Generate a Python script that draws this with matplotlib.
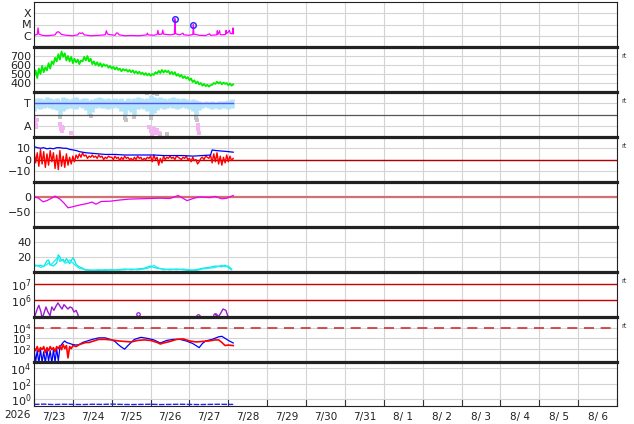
import numpy as np
import matplotlib
matplotlib.use('Agg')
import matplotlib.pyplot as plt
import matplotlib.dates as mdates
from matplotlib.ticker import FixedLocator, FuncFormatter, NullLocator

# ---- data (hours after 2026-07-23 00:00) ----
xray_h = [0, 1, 2, 2.5, 3, 5, 8, 11, 13, 14, 15, 16, 17, 20, 24, 27, 28, 29, 30, 31, 35, 40, 44, 44.7, 45.3, 46,
          50, 51, 51.8, 52.6, 56, 60, 65, 69.5, 70, 70.5, 74, 76, 76.5, 77, 79, 79.5, 80, 84, 86.7, 87, 87.4, 90,
          92, 92.5, 96, 98.1, 98.4, 98.7, 102, 106, 108.5, 109, 112.8, 113.2, 113.6, 114.6, 115, 116, 118.3,
          118.6, 119, 120, 120.7, 121.2, 122.5, 122.9, 123.2]
xray_v = [1.1, 1.2, 1.3, 5.0, 1.4, 1.1, 1.0, 1.1, 1.2, 2.0, 2.3, 1.8, 1.3, 1.1, 1.0, 1.2, 1.8, 1.6, 1.8, 1.2, 1.0,
          1.1, 1.2, 2.8, 1.5, 1.3, 1.1, 1.8, 1.7, 1.2, 1.0, 1.05, 1.0, 1.2, 1.7, 1.2, 1.1, 1.3, 3.0, 1.3, 1.4, 3.2,
          1.4, 1.2, 1.4, 33, 1.5, 1.2, 1.7, 1.2, 1.1, 1.3, 10, 1.4, 1.1, 1.05, 1.5, 1.1, 1.2, 2.8, 1.3, 2.8, 1.3,
          1.2, 1.3, 3.0, 1.6, 2.2, 3.0, 1.6, 1.5, 5.0, 1.5]  # x 1e-6 W/m2
flare_h = [87, 98.4]
flare_v = [33, 10]

speed = [470, 540, 455, 560, 500, 590, 520, 575, 540, 620, 560, 640,
         610, 680, 640, 720, 660, 750, 690, 730, 650, 700, 640, 690,
         620, 670, 630, 660, 610, 650, 640, 690, 650, 700, 640, 670,
         610, 640, 600, 630, 590, 620, 580, 610, 590, 600, 570, 590,
         560, 580, 550, 575, 545, 560, 530, 555, 540, 550, 525, 545,
         520, 540, 510, 530, 505, 525, 500, 515, 490, 510, 485, 505,
         480, 500, 490, 520, 505, 535, 510, 545, 515, 540, 520, 535,
         500, 525, 495, 520, 480, 500, 470, 490, 455, 475, 450, 465,
         430, 450, 410, 430, 395, 415, 385, 400, 370, 390, 365, 380,
         360, 375, 380, 400, 390, 415, 395, 410, 385, 405, 390, 400,
         375, 395, 370, 385]

imf_lo = [2.3, 2.6, 2.5, 2.6, 2.7, 2.6, 2.5, 2.4, 2.0, 2.3, 2.5, 2.6,
          2.6, 2.5, 2.7, 2.6, 2.4, 2.0, 2.2, 2.6, 2.7, 2.6, 2.6, 2.5,
          2.6, 2.7, 2.6, 2.3, 2.0, 2.4, 2.2, 2.0, 2.5, 2.6, 2.5, 2.3,
          2.0, 2.1, 2.4, 2.6, 2.5, 2.6, 2.7, 2.6, 2.5, 2.6, 2.7, 2.6,
          2.5, 2.3, 2.0, 2.4, 2.6, 2.7, 2.6, 2.5, 2.6, 2.5, 2.6, 2.6, 2.5, 2.6]
imf_hi = [3.4, 3.5, 3.5, 3.4, 3.6, 3.5, 3.4, 3.5, 3.3, 3.6, 3.5, 3.4,
          3.5, 3.6, 3.4, 3.5, 3.5, 3.3, 3.4, 3.5, 3.6, 3.5, 3.4, 3.5,
          3.4, 3.5, 3.4, 3.5, 3.3, 3.5, 3.4, 3.5, 3.6, 3.5, 3.4, 3.5,
          3.7, 3.6, 3.5, 3.6, 3.5, 3.4, 3.5, 3.6, 3.5, 3.4, 3.5, 3.4,
          3.3, 3.4, 3.3, 3.2, 3.1, 3.2, 3.1, 3.2, 3.1, 3.2, 3.2, 3.2, 3.3, 3.4]
away_h = [0, 0.5, 1, 1.5, 2, 16, 16.5, 17, 17.5, 18, 23, 71, 72, 73, 74, 75, 76, 77, 101, 101.5, 102]
away_v = [1.8, 1.3, 0.9, 1.1, 1.5, 1.2, 0.7, 0.9, 0.5, 0.8, 0.35, 0.9, 0.5, 0.3, 0.7, 0.4, 0.6, 0.35, 1.1, 0.7, 0.4]
grey_h = [16, 35, 56, 57, 62, 70, 72, 73, 74, 76, 78, 82, 100, 100.5]
grey_v = [1.8, 1.9, 1.7, 1.5, 1.8, 3.9, 1.7, 0.4, 3.95, 3.85, 0.3, 0.25, 1.7, 1.5]

bt_h = [0, 2, 4, 6, 8, 10, 12, 14, 16, 18, 20, 22, 24, 26, 28, 32, 36, 40, 44, 50, 56, 62, 68, 74, 80, 86, 92,
        98, 104, 109, 110, 112, 116, 120, 123]
bt_v = [11.5, 10.5, 10, 10.5, 9.5, 10, 9.5, 10.5, 10.5, 10, 10, 9, 8.5, 8, 7, 6, 5.5, 5, 4.5, 4.5, 4, 4, 4, 4,
        3.5, 3.5, 3.5, 3, 3.5, 4, 8.5, 8, 7.5, 7, 6.5]
bz = [8, -3, 6, -6, 9, -4, 7, -7, 5, -5, 8, -2,
      6, -8, 4, -9, 8, -6, 3, -7, 5, -5, 2, -4,
      3, -2, 4, 1, 5, 2, 6, 3, 4, 1, 3, 2,
      4, 2, 3, 1, 4, 2, 3, 0, 2, 1, 3, 2,
      2, 0, 3, 1, 2, -1, 2, 0, 3, 1, 2, 0,
      1, -1, 2, 0, 3, 1, 2, -1, 1, 0, 2, 1,
      3, -2, 4, 0, 2, -5, 1, -3, 3, 0, 2, 1,
      3, 1, 2, 0, 3, 2, 1, 0, 2, 1, 3, 0,
      1, -2, 2, -1, 0, -4, -2, 1, 2, 0, 3, 2,
      1, 4, -3, 5, -2, 6, -4, 3, -5, 2, -3, 4,
      -2, 3, -1, 1]

dst_h = [0, 2.5, 5.6, 8, 10.5, 13, 16, 18.5, 21, 23.5, 26.5, 29.6, 32.7, 35.8, 38.3, 41.4, 47, 53, 59, 65.4,
         71.6, 77.8, 84, 89, 94.5, 99.4, 102.5, 108.7, 111.8, 116, 119, 123]
dst_v = [0, -3, -16, -12, -5, 3, -7, -20, -36, -33, -29, -25, -22, -17, -24, -15, -14, -10, -7, -6, -5, -4,
         -5, 5, -12, -3, 0, -2, 2, -6, -4, 5]

dens_h = [0, 2, 4, 6, 8, 9, 10, 12, 14, 15, 16, 17, 18, 19, 20, 22, 24, 25, 26, 28, 30, 32, 36, 40, 44, 48,
          52, 56, 60, 64, 68, 72, 74, 76, 80, 84, 88, 92, 96, 100, 104, 108, 112, 116, 118, 120, 122]
dens_a = [10, 8, 9, 7, 15, 16, 10, 8, 12, 23, 20, 15, 17, 13, 18, 11, 19, 16, 10, 7, 5, 3, 2.5, 2, 3, 2.5,
          3, 4, 3, 4, 5, 8, 6, 5, 4, 3, 4, 3, 2, 3, 5, 6, 8, 7, 9, 6, 3]
dens_b = [7, 9, 6, 8, 10, 12, 9, 13, 18, 20, 14, 16, 15, 12, 12, 16, 12, 10, 8, 5, 4, 2.5, 2, 3, 2, 3.5,
          2.5, 3, 4, 3, 4, 6, 9, 6, 3, 4, 3, 4, 3, 2, 4, 5, 6, 9, 7, 8, 4]

elec_h = [0, 2, 3, 4.3, 5, 6, 7.4, 8.6, 9.9, 11, 12.3, 13.6, 14.8, 16, 17.3, 18.5, 19.8, 21, 22.2, 23.5,
          24.7, 26, 27, 27.8]
elec_v = [0.8, 3, 5, 2, 0.8, 1.5, 4, 2, 1.2, 4, 2.5, 4.5, 7, 4.5, 3, 5.5, 4, 3, 4, 3.5, 2, 2.5, 1.5, 0.8]  # x 1e5
elec2_h = [112, 113.6, 115, 116.7, 118.5, 120]
elec2_v = [1.4, 1.0, 1.5, 3.0, 2.5, 0.9]
elec_pts_h = [64, 101, 112]
elec_pts_v = [1.5, 1.1, 1.4]

hp_h = [0, 1, 2, 3, 4, 5, 6, 7, 8, 9, 10, 11, 12, 13, 14, 15, 16, 17, 18, 19, 20, 21, 22, 23, 24, 26, 28, 30,
        32, 34, 36, 40, 44, 48, 52, 56, 60, 64, 68, 72, 76, 78, 80, 84, 88, 92, 96, 100, 104, 108, 112, 114,
        116, 118, 120, 123]
hp_red = [2.1, 1.8, 2.2, 1.7, 2.1, 1.9, 2.2, 1.6, 2.1, 1.8, 2.2, 1.9, 2.1, 1.7, 2.2, 2.0, 2.3, 1.9, 2.4, 2.0,
          2.3, 1.1, 2.2, 2.0, 2.3, 2.2, 2.4, 2.5, 2.6, 2.6, 2.7, 2.9, 2.9, 2.85, 2.75, 2.7, 2.65, 2.8, 2.85, 2.8,
          2.6, 2.45, 2.55, 2.7, 2.9, 2.95, 2.75, 2.65, 2.7, 2.75, 2.85, 2.85, 2.6, 2.3, 2.35, 2.3]
hb_h = [0, 1, 2, 3, 4, 5, 6, 7, 8, 9, 10, 11, 12, 13, 14, 15, 16, 17, 18, 19, 20, 22, 24, 26, 28, 30, 32, 36,
        40, 44, 48, 50, 52, 54, 56, 58, 62, 66, 70, 74, 78, 82, 86, 90, 94, 98, 100, 102, 104, 106, 110, 114,
        116, 118, 120, 123]
hp_blue = [2.0, 0.7, 1.8, 0.6, 1.9, 0.7, 1.7, 0.6, 1.9, 0.8, 1.8, 0.6, 1.9, 0.7, 2.0, 0.8, 2.1, 2.4, 2.6, 2.75,
           2.6, 2.5, 2.4, 2.35, 2.4, 2.6, 2.7, 2.9, 3.05, 3.05, 2.85, 2.7, 2.4, 2.15, 1.95, 2.3, 2.9, 3.1, 3.0,
           2.85, 2.55, 2.8, 2.9, 2.9, 2.75, 2.5, 2.3, 2.1, 2.5, 2.75, 2.9, 3.15, 3.2, 3.0, 2.8, 2.55]  # log10

pr_h = [0, 6, 12, 18, 24, 30, 36, 42, 48, 54, 60, 66, 72, 78, 84, 90, 96, 102, 108, 114, 120, 123]
pr_v = [0.22, 0.24, 0.21, 0.23, 0.22, 0.21, 0.23, 0.22, 0.24, 0.22, 0.21, 0.22, 0.23, 0.21, 0.22, 0.23,
        0.22, 0.21, 0.22, 0.23, 0.22, 0.22]


t0 = np.datetime64('2026-07-23T00:00')
def when(hours):
    return t0 + (np.asarray(hours, dtype=float) * 60).astype(int) * np.timedelta64(1, 'm')

W, H = 634, 424
fig = plt.figure(figsize=(W / 100, H / 100), dpi=100)
tops = [2, 47, 92, 137, 182, 227, 272, 317, 362, 406]
axs = []
for i in range(9):
    t, b = tops[i], tops[i + 1]
    ax = fig.add_axes([34 / W, 1 - b / H, 583 / W, (b - t) / H], sharex=axs[0] if axs else None)
    for s in ['left', 'right']:
        ax.spines[s].set_linewidth(0.8)
        ax.spines[s].set_color('#222222')
    ax.spines['top'].set_color('#222222')
    ax.spines['top'].set_linewidth(0.8 if i == 0 else 2.3)
    ax.spines['bottom'].set_visible(i == 8)
    ax.spines['bottom'].set_linewidth(0.8)
    ax.spines['bottom'].set_color('#222222')
    ax.grid(True, color='#d4d4d4', lw=0.8)
    ax.set_axisbelow(True)
    ax.tick_params(axis='y', which='both', length=0, pad=2, labelsize=8, labelcolor='#222222')
    ax.tick_params(axis='x', which='both', length=0, labelbottom=False)
    axs.append(ax)

ax = axs[0]
ax.xaxis.set_major_locator(mdates.DayLocator())
ax.xaxis.set_major_formatter(FuncFormatter(lambda x, p: ''))
ax.xaxis.set_minor_locator(mdates.HourLocator(byhour=[12]))
ax.set_xlim(np.datetime64('2026-07-23T00:00'), np.datetime64('2026-08-07T00:00'))

# 1: X-ray
ax = axs[0]
ax.set_yscale('log')
ax.plot(when(xray_h), np.array(xray_v) * 1e-6, color='#ff00ff', lw=0.9)
ax.plot(when(flare_h), np.array(flare_v) * 1e-6, 'o', mfc='none', mec='#3030ff', ms=4, mew=1.1)
ax.set_ylim(1e-7, 1e-3)
ax.yaxis.set_major_locator(FixedLocator([1e-6, 1e-5, 1e-4]))
ax.yaxis.set_minor_locator(NullLocator())
ax.set_yticklabels(['C', 'M', 'X'])

# 2: solar wind speed
ax = axs[1]
ax.plot(when(np.arange(len(speed))), speed, color='#00ee00', lw=1.3)
ax.set_ylim(300, 800)
ax.set_yticks([400, 500, 600, 700])

# 3: IMF sector
ax = axs[2]
ax.vlines(when(np.arange(0, 124, 2)), imf_lo, imf_hi, color='#b4e4fa', lw=3.3)
ax.plot(when(grey_h), grey_v, 's', color='#c4c4c4', ms=2.2, mew=0)
ax.plot(when(away_h), away_v, 's', color='#f4b4f4', ms=2.4, mew=0)
ax.plot(when([0, 123]), [3, 3], color='#5555ff', lw=1.0)
ax.axhline(2, color='#555555', lw=0.9)
ax.set_ylim(0, 4)
ax.set_yticks([1, 3])
ax.set_yticklabels(['A', 'T'])

# 4: Bt / Bz
ax = axs[3]
ax.axhline(0, color='#b00000', lw=1.0)
ax.plot(when(np.arange(len(bz))), bz, color='#ff0000', lw=1.0)
ax.plot(when(bt_h), bt_v, color='#0000ff', lw=0.9)
ax.set_ylim(-20, 20)
ax.set_yticks([-10, 0, 10])

# 5: Dst
ax = axs[4]
ax.axhline(0, color='#d07070', lw=1.6)
ax.plot(when(dst_h), dst_v, color='#ee00ee', lw=0.9)
ax.set_ylim(-100, 50)
ax.set_yticks([-50, 0])

# 6: density
ax = axs[5]
ax.plot(when(dens_h), dens_a, color='#00e8e8', lw=0.9)
ax.plot(when(dens_h), dens_b, color='#20f0f0', lw=0.9)
ax.set_ylim(0, 60)
ax.set_yticks([20, 40])

# 7: electrons
ax = axs[6]
ax.set_yscale('log')
ax.axhline(1e7, color='#cc0000', lw=1.0)
ax.axhline(1e6, color='#cc0000', lw=1.0)
ax.plot(when(elec_h), np.array(elec_v) * 1e5, color='#9a1ad0', lw=1.0)
ax.plot(when(elec2_h), np.array(elec2_v) * 1e5, color='#9a1ad0', lw=1.0)
ax.plot(when(elec_pts_h), np.array(elec_pts_v) * 1e5, 'o', mfc='none', mec='#9a1ad0', ms=2.5, mew=0.9)
ax.set_ylim(1e5, 5e7)
ax.yaxis.set_major_locator(FixedLocator([1e6, 1e7]))
ax.yaxis.set_minor_locator(NullLocator())

# 8: high-energy flux (tick labels sit tight, as in the original)
ax = axs[7]
ax.set_yscale('log')
ax.axhline(1e4, color='#d03030', lw=1.2, dashes=(6, 4))
ax.plot(when(hb_h), 10 ** np.array(hp_blue), color='#0000ff', lw=0.9)
ax.plot(when(hp_h), 10 ** np.array(hp_red), color='#ff0000', lw=1.2)
ax.set_ylim(5, 1.2e5)
ax.yaxis.set_major_locator(FixedLocator([1e2, 1e3, 1e4]))
ax.yaxis.set_minor_locator(NullLocator())
ax.tick_params(axis='y', labelsize=7.6)

# 9: protons
ax = axs[8]
ax.set_yscale('log')
ax.plot(when(pr_h), pr_v, color='#2222ff', lw=1.0, dashes=(4, 1))
ax.set_ylim(0.137, 6.5e4)
ax.yaxis.set_major_locator(FixedLocator([1e0, 1e2, 1e4]))
ax.yaxis.set_minor_locator(NullLocator())

ax.tick_params(axis='x', which='major', length=5, direction='in', color='#333333')
ax.tick_params(axis='x', which='minor', labelbottom=True, labelsize=7.5, pad=4, labelcolor='#222222')
ax.xaxis.set_minor_formatter(FuncFormatter(
    lambda x, p: '%d/%2d' % (mdates.num2date(x).month, mdates.num2date(x).day)))

fig.text(17 / W, 1 - 415 / H, '2026', ha='center', va='center', fontsize=7.5, color='#222222')
for y in [56, 101, 146, 281, 326]:
    fig.text(621 / W, 1 - y / H, 'rt', ha='left', va='center', fontsize=4.8, color='#333333')

fig.savefig('out.png', dpi=100)
